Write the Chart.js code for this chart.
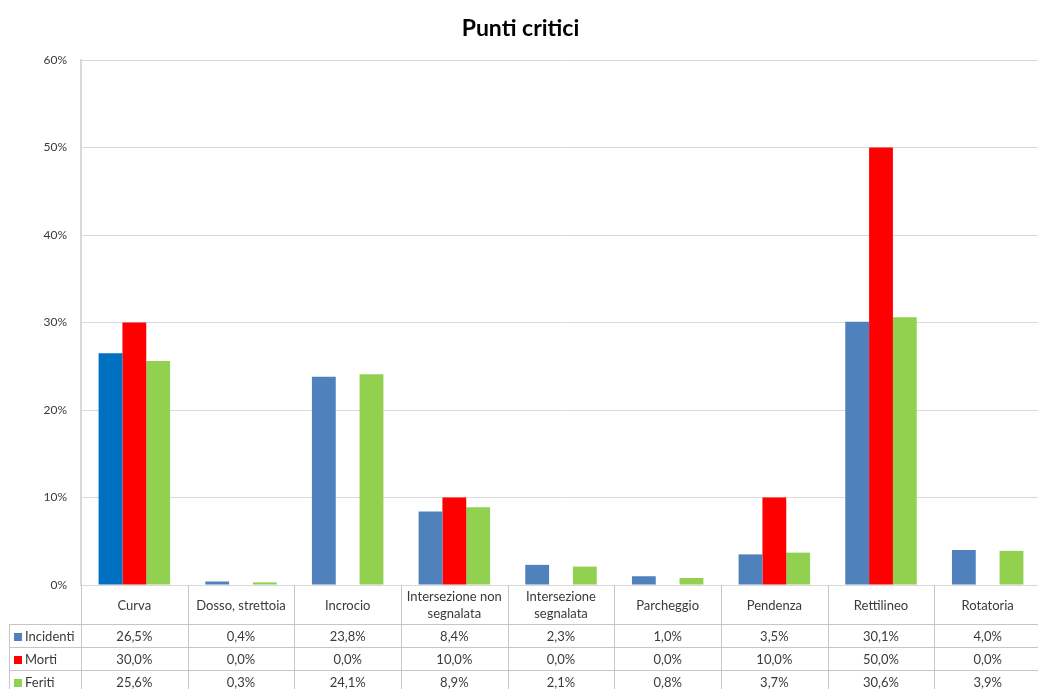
<!DOCTYPE html>
<html>
<head>
<meta charset="utf-8">
<title>Punti critici</title>
<script src="https://cdn.jsdelivr.net/npm/chart.js@4.4.1/dist/chart.umd.min.js"></script>
<style>
  html, body { margin: 0; padding: 0; background: #ffffff; overflow: hidden; }
  #wrap { width: 1044px; height: 689px; }
</style>
</head>
<body>
<div id="wrap"><canvas id="chart" width="1044" height="689"></canvas></div>
<script>
// Categories (multi-line labels are split into rows for the table header)
const categories = [
  ['Curva'],
  ['Dosso, strettoia'],
  ['Incrocio'],
  ['Intersezione non', 'segnalata'],
  ['Intersezione', 'segnalata'],
  ['Parcheggio'],
  ['Pendenza'],
  ['Rettilineo'],
  ['Rotatoria']
];

// Series values, in percent
const incidenti = [26.5, 0.4, 23.8, 8.4, 2.3, 1.0, 3.5, 30.1, 4.0];
const morti     = [30.0, 0.0, 0.0, 10.0, 0.0, 0.0, 10.0, 50.0, 0.0];
const feriti    = [25.6, 0.3, 24.1, 8.9, 2.1, 0.8, 3.7, 30.6, 3.9];

// Y axis tick labels
const yTickLabels = ['0%', '10%', '20%', '30%', '40%', '50%', '60%'];

const seriesNames = ['Incidenti', 'Morti', 'Feriti'];

const COL_BLUE = '#4f81bd';
const COL_BLUE_DARK = '#0070c0';
const COL_RED = '#ff0000';
const COL_GREEN = '#92d050';
const TEXT = '#3a3a3a';
const LINE = '#c6c6c6';
const FONT = 'Lato, "Open Sans", sans-serif';

const fmt = v => v.toFixed(1).replace('.', ',') + '%';

// Data table drawn under the plot, aligned to the category scale
const dataTable = {
  id: 'dataTable',
  afterDraw(chart) {
    const ctx = chart.ctx;
    const x = chart.scales.x;
    const area = chart.chartArea;
    const n = categories.length;
    const colW = (area.right - area.left) / n;
    const top = area.bottom;
    const headerBottom = top + 39;
    const rowH = 23;
    const tableLeft = 9;
    const bottom = chart.height;

    ctx.save();
    ctx.strokeStyle = LINE;
    ctx.lineWidth = 1;

    // vertical column separators
    for (let i = 0; i <= n; i++) {
      const px = Math.round(area.left + i * colW) + 0.5;
      ctx.beginPath();
      ctx.moveTo(px, top);
      ctx.lineTo(px, bottom);
      ctx.stroke();
    }
    // left border of the legend column
    ctx.beginPath();
    ctx.moveTo(tableLeft + 0.5, headerBottom);
    ctx.lineTo(tableLeft + 0.5, bottom);
    ctx.stroke();
    // horizontal row separators
    for (let r = 0; r < 3; r++) {
      const py = Math.round(headerBottom + r * rowH) + 0.5;
      ctx.beginPath();
      ctx.moveTo(tableLeft, py);
      ctx.lineTo(area.right, py);
      ctx.stroke();
    }

    // header labels
    ctx.fillStyle = TEXT;
    ctx.font = '13px ' + FONT;
    ctx.textAlign = 'center';
    ctx.textBaseline = 'middle';
    const headMid = (top + headerBottom) / 2 + 1;
    categories.forEach((lines, i) => {
      const cx = x.getPixelForValue(i);
      const lh = 17;
      const y0 = headMid - (lines.length - 1) * lh / 2;
      lines.forEach((t, k) => ctx.fillText(t, cx, y0 + k * lh));
    });

    // value rows with legend keys
    chart.data.datasets.forEach((ds, r) => {
      const cy = headerBottom + r * rowH + rowH / 2 + 1;
      ctx.fillStyle = ds.keyColor;
      ctx.fillRect(14, Math.round(cy - 4), 8, 8);
      ctx.fillStyle = TEXT;
      ctx.textAlign = 'left';
      ctx.fillText(ds.label, 25, cy);
      ctx.textAlign = 'center';
      ds.data.forEach((v, i) => ctx.fillText(fmt(v), x.getPixelForValue(i), cy));
    });
    ctx.restore();
  }
};

new Chart(document.getElementById('chart'), {
  type: 'bar',
  data: {
    labels: categories.map(c => c.join(' ')),
    datasets: [
      {
        label: seriesNames[0],
        data: incidenti,
        keyColor: COL_BLUE,
        backgroundColor: incidenti.map((v, i) => i === 0 ? COL_BLUE_DARK : COL_BLUE)
      },
      { label: seriesNames[1], data: morti, keyColor: COL_RED, backgroundColor: COL_RED },
      { label: seriesNames[2], data: feriti, keyColor: COL_GREEN, backgroundColor: COL_GREEN }
    ]
  },
  options: {
    responsive: false,
    devicePixelRatio: 1,
    animation: false,
    layout: { padding: { left: 0, right: 3, top: 0, bottom: 104 } },
    datasets: { bar: { categoryPercentage: 0.67, barPercentage: 1.0 } },
    plugins: {
      legend: { display: false },
      tooltip: { enabled: false },
      title: {
        display: true,
        text: 'Punti critici',
        color: '#000000',
        font: { family: FONT, size: 23, weight: 'bold' },
        padding: { top: 15, bottom: 17.4 }
      }
    },
    scales: {
      x: { display: false },
      y: {
        min: 0,
        max: 60,
        afterFit(scale) { scale.width = 81; },
        ticks: {
          stepSize: 10,
          padding: 14,
          color: TEXT,
          font: { family: FONT, size: 12 },
          callback: (v, i) => yTickLabels[i]
        },
        grid: { color: '#d9d9d9', drawTicks: false },
        border: { display: true, color: '#d9d9d9', width: 2 }
      }
    }
  },
  plugins: [dataTable]
});
</script>
</body>
</html>
